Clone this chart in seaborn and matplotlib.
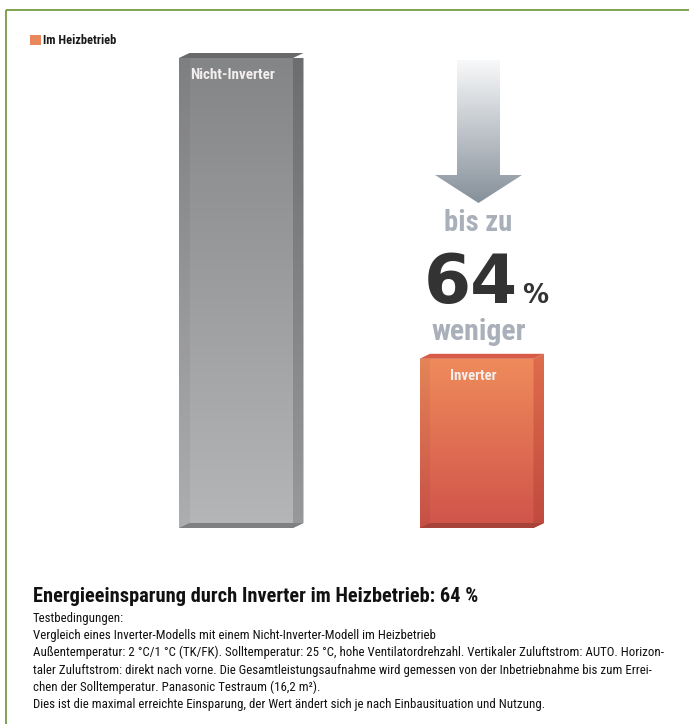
import numpy as np
import pandas as pd
import seaborn as sns
import matplotlib.pyplot as plt
from matplotlib import font_manager as fm
from matplotlib.patches import Polygon, Rectangle
from matplotlib.colors import LinearSegmentedColormap

# ---- data -------------------------------------------------------------
categories = ["Nicht-Inverter", "Inverter"]
energy_use = [100, 36]  # relative total power consumption in heating mode (%)
series_label = "Im Heizbetrieb"

title_text = "Energieeinsparung durch Inverter im Heizbetrieb: 64 %"
notes = [
    "Testbedingungen:",
    "Vergleich eines Inverter-Modells mit einem Nicht-Inverter-Modell im Heizbetrieb",
    "Außentemperatur: 2 °C/1 °C (TK/FK). Solltemperatur: 25 °C, hohe Ventilatordrehzahl. Vertikaler Zuluftstrom: AUTO. Horizon-",
    "taler Zuluftstrom: direkt nach vorne. Die Gesamtleistungsaufnahme wird gemessen von der Inbetriebnahme bis zum Errei-",
    "chen der Solltemperatur. Panasonic Testraum (16,2 m²).",
    "Dies ist die maximal erreichte Einsparung, der Wert ändert sich je nach Einbausituation und Nutzung.",
]

# ---- fonts: use the narrowest sans face that is installed ---------------
sns.set_theme(style="white")
installed = {(f.name, f.stretch) for f in fm.fontManager.ttflist}
installed_names = {n for n, _ in installed}
narrow_family, narrow_stretch = "Roboto", "normal"
for cand in ["Roboto Condensed", "Open Sans Condensed", "Liberation Sans Narrow",
             "Noto Sans Display", "Arial Narrow"]:
    if cand in installed_names:
        narrow_family = cand
        break
else:
    for fam in ["Roboto", "Noto Sans", "Open Sans", "DejaVu Sans"]:
        if any(n == fam and s in ("condensed", "semi-condensed", 87.5, 75) for n, s in installed):
            narrow_family, narrow_stretch = fam, "condensed"
            break
plt.rcParams["font.family"] = [narrow_family, "DejaVu Sans"]
plt.rcParams["font.stretch"] = narrow_stretch

front_top = ["#848587", "#ef8b5b"]
front_bottom = ["#b5b6b8", "#d0534a"]
side_top = ["#6c6d6f", "#df6c4c"]
side_bottom = ["#98999b", "#c04a3f"]
lid_color = ["#69696b", "#d85b48"]
base_color = ["#7f8082", "#a8433a"]
legend_color = "#e8865e"
soft_text = "#a9b0ba"
frame_green = "#6a9236"

W, H = 689, 724
fig = plt.figure(figsize=(W / 100, H / 100), dpi=100)
fig.patch.set_facecolor("white")

# full-figure layer in pixel units (y downwards) for frame, arrow and notes
ov = fig.add_axes([0, 0, 1, 1])
ov.set_xlim(0, W)
ov.set_ylim(H, 0)
ov.axis("off")

# bar layer
ax = fig.add_axes([115.75 / W, 196 / H, 481 / W, 470 / H])
ax.patch.set_alpha(0)
sns.barplot(x=categories, y=energy_use, hue=categories, palette=front_bottom,
            legend=False, width=0.474, saturation=1, ax=ax)
ax.set_xlim(-0.5, 1.5)
ax.set_ylim(0, 100)
ax.axis("off")


def gradient(axis, clip, top, bottom, extent, z):
    cmap = LinearSegmentedColormap.from_list("g", [bottom, top])
    g = np.linspace(0, 1, 256).reshape(-1, 1)
    im = axis.imshow(g, cmap=cmap, extent=extent, origin="lower",
                     aspect="auto", interpolation="bicubic", zorder=z)
    im.set_clip_path(clip)
    return im


# pixel -> data scale for the pseudo-3D depth
p0 = ax.transData.transform((0, 0))
p1 = ax.transData.transform((1, 1))
ux, uy = p1[0] - p0[0], p1[1] - p0[1]
ddx, ddy = 10.5 / ux, 5 / uy

fitted = []  # (text, target width in px)
bars = sorted(ax.patches, key=lambda p: p.get_x())
geo = []
label_widths = [85, 47]
for i, bar in enumerate(bars):
    x0, y0 = bar.get_x(), bar.get_y()
    x1, y1 = x0 + bar.get_width(), y0 + bar.get_height()
    bar.set_facecolor("none")
    bar.set_edgecolor("none")
    bar.set_zorder(2)
    gradient(ax, bar, front_top[i], front_bottom[i], (x0, x1, y0, y1), 2.1)

    # slightly shaded inner left edge
    ax.add_patch(Rectangle((x0, y0), ddx, y1 - y0, facecolor="black",
                           alpha=0.045, lw=0, zorder=2.2))
    # right side face
    side = Polygon([(x1, y1), (x1 + ddx, y1 + ddy), (x1 + ddx, y0 + ddy), (x1, y0)],
                   closed=True, facecolor="none", edgecolor="none", zorder=2)
    ax.add_patch(side)
    gradient(ax, side, side_top[i], side_bottom[i], (x1, x1 + ddx, y0, y1 + ddy), 2.1)
    # top face
    ax.add_patch(Polygon([(x0, y1), (x0 + ddx, y1 + ddy), (x1 + ddx, y1 + ddy), (x1, y1)],
                         closed=True, facecolor=lid_color[i], lw=0, zorder=2.3,
                         clip_on=False))
    # bottom band
    ax.add_patch(Polygon([(x0, y0), (x1, y0), (x1 + ddx, y0 + ddy), (x0 + ddx, y0 + ddy)],
                         closed=True, facecolor=base_color[i], lw=0, zorder=2.3,
                         clip_on=False))
    # category label inside the bar
    t = ax.annotate(categories[i], xy=((x0 + x1) / 2, y1), xytext=(-3, -17),
                    textcoords="offset pixels", ha="center", va="center",
                    fontsize=10.5, fontweight="bold", color="#f3efee", zorder=3)
    fitted.append((t, label_widths[i]))
    c = ax.transData.transform(((x0 + x1) / 2, y1))
    geo.append((c[0], H - c[1]))

# ---- frame ----------------------------------------------------------------
ov.plot([6, W], [10, 10], color=frame_green, lw=1.2, solid_capstyle="butt")
ov.plot([6, 6], [10, H], color=frame_green, lw=1.2, solid_capstyle="butt")

# ---- legend ---------------------------------------------------------------
ov.add_patch(Rectangle((30, 35), 11, 10, facecolor=legend_color, lw=0))
t = ov.text(43, 40.5, series_label, fontsize=8.5, fontweight="bold", color="#1a1a1a",
            ha="left", va="center")
fitted.append((t, 74))

# ---- savings arrow and callout ------------------------------------------
cx = geo[1][0] + 2
top_y = geo[0][1] + 2
shaft, head, head_y, tip_y = 21.5, 43.5, 175, 203
arrow = Polygon([(cx - shaft, top_y), (cx + shaft, top_y), (cx + shaft, head_y),
                 (cx + head, head_y), (cx, tip_y), (cx - head, head_y),
                 (cx - shaft, head_y)], closed=True, facecolor="none",
                edgecolor="none")
ov.add_patch(arrow)
gradient(ov, arrow, "#f8f9fa", "#86909a", (cx - head, cx + head, tip_y, top_y), 1)
ov.set_xlim(0, W)
ov.set_ylim(H, 0)

savings = round(100 * (1 - energy_use[1] / energy_use[0]))
t = ov.text(cx, 223, "bis zu", fontsize=20, fontweight="bold", color=soft_text,
            ha="center", va="center")
fitted.append((t, 68))
t = ov.text(cx + 39, 303, f"{savings}", fontsize=49, fontweight="bold",
            family="DejaVu Sans", stretch="normal", color="#333333",
            ha="right", va="baseline")
fitted.append((t, 94))
t = ov.text(cx + 44, 303, "%", fontsize=17, fontweight="bold", family="DejaVu Sans",
            stretch="normal", color="#333333", ha="left", va="baseline")
fitted.append((t, 26))
t = ov.text(cx, 332, "weniger", fontsize=20, fontweight="bold", color=soft_text,
            ha="center", va="center")
fitted.append((t, 94))

# ---- headline and test conditions ---------------------------------------
t = ov.text(33, 602, title_text, fontsize=13, fontweight="bold", color="#111111",
            ha="left", va="baseline")
fitted.append((t, 442))
note_texts = []
for k, line in enumerate(notes):
    note_texts.append(ov.text(33, 622 + k * 17.2, line, fontsize=9.2,
                              color="#111111", ha="left", va="baseline"))

# scale text sizes so each string spans its intended width
fig.canvas.draw()
renderer = fig.canvas.get_renderer()
for txt, width in fitted:
    w = txt.get_window_extent(renderer).width
    txt.set_fontsize(txt.get_fontsize() * width / w)
longest = note_texts[2]
scale = 627 / longest.get_window_extent(renderer).width
for txt in note_texts:
    txt.set_fontsize(txt.get_fontsize() * scale)

fig.savefig("out.png", dpi=100)
